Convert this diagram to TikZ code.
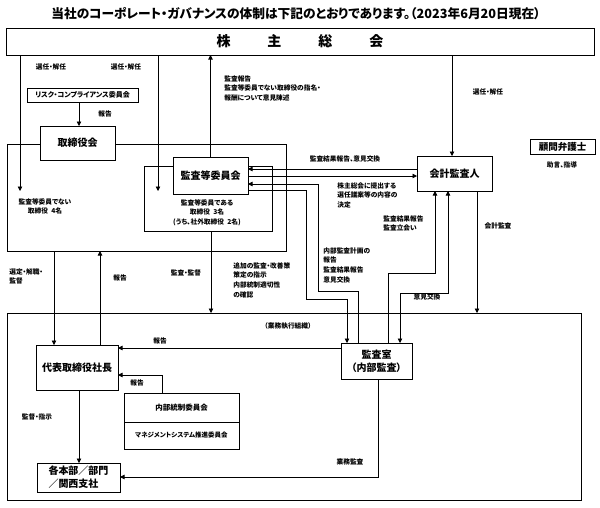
\documentclass[tikz,border=0pt]{standalone}
\usepackage{fontspec}
\setmainfont{Noto Sans CJK JP}[RawFeature=+palt]
\usetikzlibrary{arrows.meta}
\begin{document}
\begin{tikzpicture}[x=1pt,y=-1pt,line width=0.7pt,
  >={Triangle[length=4.5pt,width=4.5pt]},
  box/.style={draw,fill=white,inner sep=0pt,outer sep=0pt,align=center,
    font=\fontsize{10}{13}\selectfont\bfseries},
  area/.style={draw,inner sep=0pt,outer sep=0pt},
  lbl/.style={inner sep=0pt,align=left,font=\fontsize{6.7}{9.8}\selectfont\bfseries},
  clbl/.style={lbl,align=center}]
\useasboundingbox (0,0) rectangle (600,507);

% title
\node[lbl,font=\fontsize{12.7}{14}\selectfont\bfseries] (title) at (296,14)
  {当社のコーポレート・ガバナンスの体制は下記のとおりであります。（2023年6月20日現在）};

% areas
\node[area,minimum width=279pt,minimum height=107pt] (board) at (146.5,197.5) {};
\node[area,minimum width=128pt,minimum height=65pt] (region) at (208,198.5) {};
\node[area,minimum width=574pt,minimum height=187pt] (exec) at (294,406.5) {};

% boxes
\node[box,minimum width=588pt,minimum height=27pt,font=\fontsize{14}{14}\selectfont\bfseries] (kabu) at (300,41.5)
  {株\hspace{37pt}主\hspace{37pt}総\hspace{37pt}会};
\node[box,minimum width=111pt,minimum height=14pt,font=\fontsize{7}{8}\selectfont\bfseries] (risk) at (82.5,95) {リスク・コンプライアンス委員会};
\node[box,minimum width=75pt,minimum height=34pt] (tori) at (77.5,143) {取締役会};
\node[box,minimum width=75pt,minimum height=37pt] (iinkai) at (210.5,175.5) {監査等委員会};
\node[box,minimum width=75pt,minimum height=35pt] (kaikei) at (454.5,173.5) {会計監査人};
\node[box,minimum width=65pt,minimum height=15pt,font=\fontsize{9.5}{10}\selectfont\bfseries] (bengo) at (562.5,146.5) {顧問弁護士};
\node[box,minimum width=82pt,minimum height=45pt] (shacho) at (77,367.5) {代表取締役社長};
\node[box,minimum width=71pt,minimum height=36pt] (kansa) at (376.5,361) {監査室\\（内部監査）};
\node[box,minimum width=115pt,minimum height=29pt,font=\fontsize{7.5}{8}\selectfont\bfseries] (naibu1) at (181.5,407.5) {内部統制委員会};
\node[box,minimum width=115pt,minimum height=27pt,font=\fontsize{6.5}{8}\selectfont\bfseries] (naibu2) at (181.5,435.5) {マネジメントシステム推進委員会};
\node[box,minimum width=83pt,minimum height=29pt,align=left] (honbu) at (78.5,477.5) {各本部／部門\\／関西支社};

% connectors
\draw[->] (20,0 |- kabu.south) -- (20,191) coordinate (e1);
\draw[->] (158,0 |- kabu.south) -- (158,191) coordinate (e2);
\draw[->] (iinkai.north) -- (iinkai.north |- kabu.south);
\draw[->] (452,0 |- kabu.south) -- (452,0 |- kaikei.north);
\draw[->] (79,0 |- risk.south) -- (79,0 |- tori.north);
\draw[->] (kaikei.west |- 0,169) -- (iinkai.east |- 0,169);
\draw[->] (iinkai.east |- 0,176) -- (kaikei.west |- 0,176);
\draw[->] (358,0 |- kansa.north) |- (318,291) |- (iinkai.east |- 0,184);
\draw[->] (iinkai.east |- 0,190) -| (306,299) -| (347,0 |- kansa.north);
\draw[->] (388,0 |- kansa.north) |- (435,273) -- (435,0 |- kaikei.south);
\draw[<->] (400,0 |- kansa.north) |- (448,293) -- (448,0 |- kaikei.south);
\draw[->] (477,0 |- kaikei.south) -- (477,0 |- exec.north);
\draw[->] (54,0 |- board.south) -- (54,0 |- shacho.north);
\draw[->] (100,0 |- shacho.north) -- (100,0 |- board.south);
\draw[->] (211,0 |- region.south) -- (211,0 |- exec.north);
\draw[->] (kansa.west |- 0,348) -- (shacho.east |- 0,348);
\draw[->] (162,0 |- naibu1.north) |- (shacho.east |- 0,375);
\draw[->] (79,0 |- shacho.south) -- (79,0 |- honbu.north);
\draw[->] (378,0 |- kansa.south) |- (honbu.east |- 0,477);

% labels
\node[lbl] (l1) at (51,67) {選任・解任};
\node[lbl] (l2) at (126,67) {選任・解任};
\node[lbl] (l3) at (105,114) {報告};
\node[lbl,anchor=north west] (l4) at (224,75) {監査報告\\監査等委員でない取締役の指名・\\報酬について意見陳述};
\node[lbl] (l5) at (488,92) {選任・解任};
\node[lbl] (l6) at (562,165) {助言、指導};
\node[lbl] (l7) at (345,159) {監査結果報告、意見交換};
\node[lbl,anchor=north west] (l8) at (337,182) {株主総会に提出する\\選任議案等の内容の\\決定};
\node[lbl,anchor=north west] (l9) at (383,215) {監査結果報告\\監査立会い};
\node[lbl] (l10) at (498,226) {会計監査};
\node[clbl,anchor=north] (l11) at (45,198) {監査等委員でない\\取締役\enspace 4名};
\node[clbl,anchor=north] (l12) at (207,199) {監査等委員である\\取締役\enspace 3名\\(うち、社外取締役\enspace 2名)};
\node[lbl,anchor=north west] (l13) at (9,268) {選定・解職・\\監督};
\node[lbl] (l14) at (120,278) {報告};
\node[lbl] (l15) at (186,273) {監査・監督};
\node[lbl,anchor=north west] (l16) at (233,262) {追加の監査・改善策\\策定の指示\\内部統制適切性\\の確認};
\node[lbl,anchor=north west] (l17) at (323,247) {内部監査計画の\\報告\\監査結果報告\\意見交換};
\node[lbl] (l18) at (427,297) {意見交換};
\node[lbl] (l19) at (288,326) {（業務執行組織）};
\node[lbl] (l20) at (160,341) {報告};
\node[lbl] (l21) at (137,383) {報告};
\node[lbl] (l22) at (37,417) {監督・指示};
\node[lbl] (l23) at (350,462) {業務監査};
\end{tikzpicture}
\end{document}
